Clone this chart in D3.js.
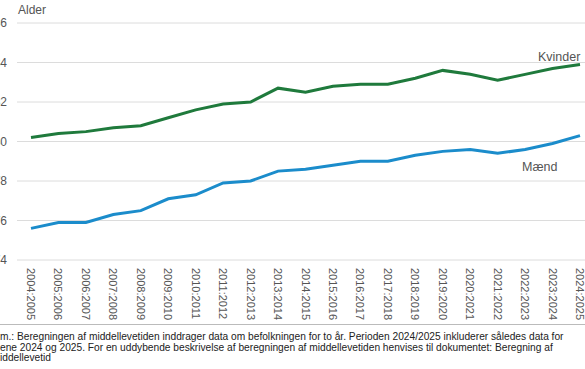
<!DOCTYPE html>
<html>
<head>
<meta charset="utf-8">
<script src="https://cdn.jsdelivr.net/npm/d3@7"></script>
<style>
  body { margin: 0; background: #fff; }
  svg { display: block; font-family: "Liberation Sans", Arial, sans-serif; }
</style>
</head>
<body>
<div id="d3"></div>
<script>
var periods = ["2004:2005","2005:2006","2006:2007","2007:2008","2008:2009","2009:2010",
    "2010:2011","2011:2012","2012:2013","2013:2014","2014:2015","2015:2016","2016:2017",
    "2017:2018","2018:2019","2019:2020","2020:2021","2021:2022","2022:2023","2023:2024","2024:2025"];
var kvinder = [80.2,80.4,80.5,80.7,80.8,81.2,81.6,81.9,82.0,82.7,82.5,82.8,82.9,82.9,83.2,83.6,83.4,83.1,83.4,83.7,83.9];
var maend = [75.6,75.9,75.9,76.3,76.5,77.1,77.3,77.9,78.0,78.5,78.6,78.8,79.0,79.0,79.3,79.5,79.6,79.4,79.6,79.9,80.3];
var yTicks = [74,76,78,80,82,84,86];
var footnote = [
    "m.: Beregningen af middellevetiden inddrager data om befolkningen for to år. Perioden 2024/2025 inkluderer således data for",
    "ene 2024 og 2025. For en uddybende beskrivelse af beregningen af middellevetiden henvises til dokumentet: Beregning af",
    "iddellevetid"
];

var W = 585, H = 369;
var svg = d3.select("#d3").append("svg").attr("width", W).attr("height", H);

var x = d3.scalePoint().domain(periods).range([31, 580]);
var y = d3.scaleLinear().domain([74, 86]).range([260, 23]);

// grid lines
svg.append("g").selectAll("line")
    .data(yTicks).enter()
    .append("line")
    .attr("x1", 17).attr("x2", W)
    .attr("y1", function(d) { return y(d); })
    .attr("y2", function(d) { return y(d); })
    .attr("stroke", "#dcdcdc")
    .attr("stroke-width", 1);

// y tick labels (left part cut off by the edge, as in the source crop)
svg.append("g").selectAll("text")
    .data(yTicks).enter()
    .append("text")
    .attr("x", 7)
    .attr("y", function(d) { return y(d); })
    .attr("dy", "0.35em")
    .attr("text-anchor", "end")
    .attr("font-size", "12px")
    .attr("fill", "#555")
    .text(function(d) { return d; });

svg.append("text")
    .attr("x", 18).attr("y", 14)
    .attr("font-size", "12px")
    .attr("fill", "#555")
    .text("Alder");

// x labels rotated
svg.append("g").selectAll("text")
    .data(periods).enter()
    .append("text")
    .attr("transform", function(d) { return "translate(" + (x(d) - 4) + ",268) rotate(90)"; })
    .attr("font-size", "11px")
    .attr("fill", "#555")
    .text(function(d) { return d; });

svg.append("line")
    .attr("x1", 0).attr("x2", W)
    .attr("y1", 324.5).attr("y2", 324.5)
    .attr("stroke", "#bbb");

var line = d3.line()
    .x(function(d, i) { return x(periods[i]); })
    .y(function(d) { return y(d); });

svg.append("path")
    .datum(kvinder)
    .attr("d", line)
    .attr("fill", "none")
    .attr("stroke", "#1f7a3c")
    .attr("stroke-width", 3);

svg.append("path")
    .datum(maend)
    .attr("d", line)
    .attr("fill", "none")
    .attr("stroke", "#1b8ccb")
    .attr("stroke-width", 3);

svg.append("text")
    .attr("x", 538).attr("y", 61)
    .attr("font-size", "12.5px")
    .attr("fill", "#555")
    .text("Kvinder");

svg.append("text")
    .attr("x", 522).attr("y", 171)
    .attr("font-size", "12.5px")
    .attr("fill", "#555")
    .text("Mænd");

svg.append("g").selectAll("text")
    .data(footnote).enter()
    .append("text")
    .attr("x", 0)
    .attr("y", function(d, i) { return 340 + i * 10.5; })
    .attr("font-size", "10.2px")
    .attr("fill", "#222")
    .text(function(d) { return d; });
</script>
</body>
</html>
